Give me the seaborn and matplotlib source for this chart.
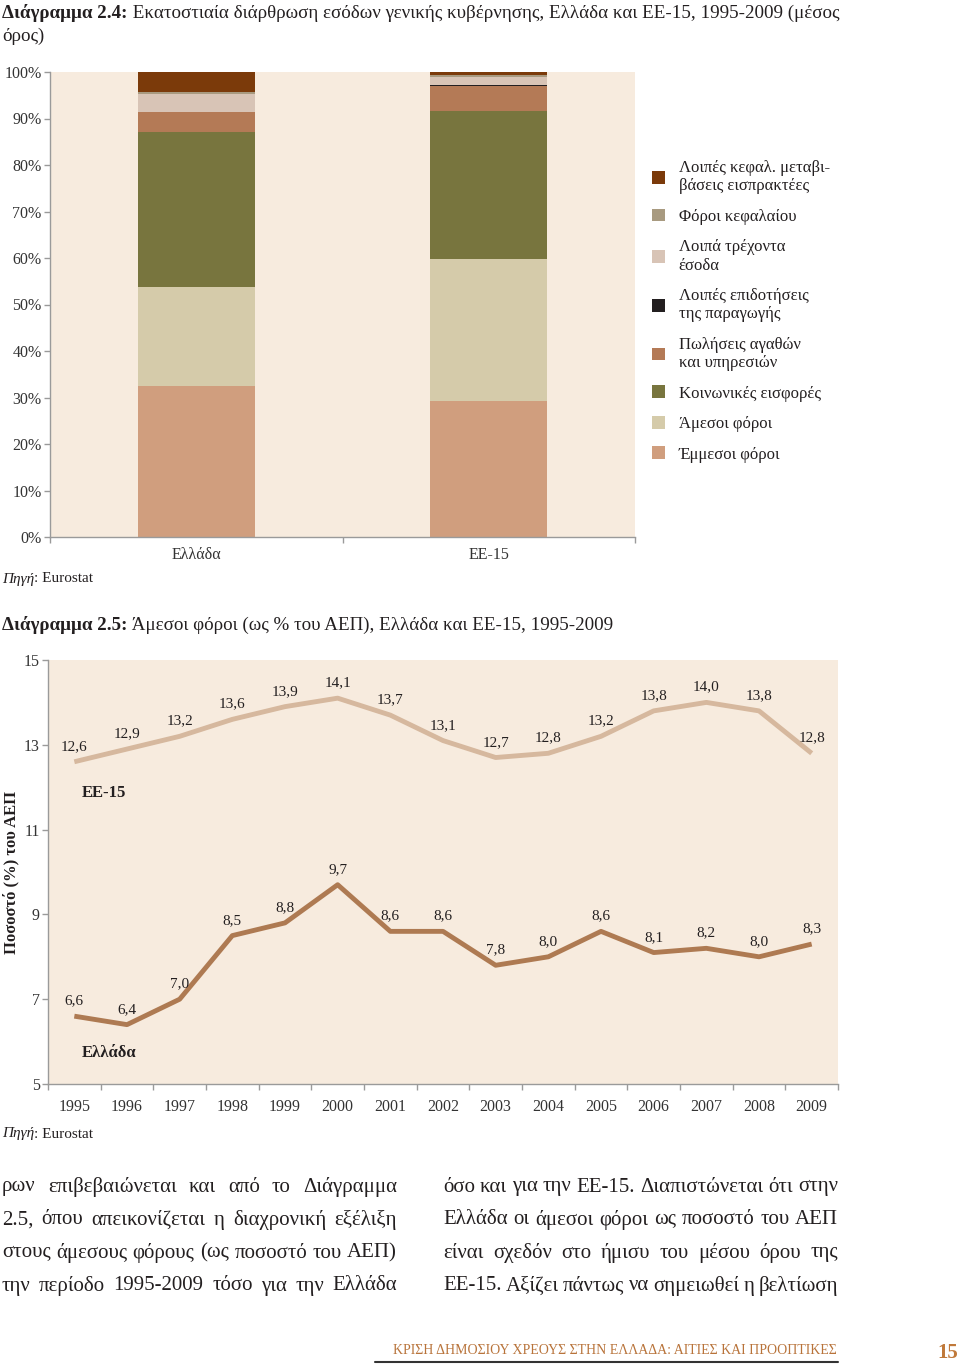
import numpy as np
import pandas as pd
import seaborn as sns
import matplotlib.pyplot as plt
from matplotlib.lines import Line2D
from matplotlib.ticker import FuncFormatter

W, H = 960, 1368

# Diagram 2.4: revenue structure (% of total), stacked bottom -> top
countries = ["Ελλάδα", "ΕΕ-15"]
components = ["Έμμεσοι φόροι", "Άμεσοι φόροι", "Κοινωνικές εισφορές",
              "Πωλήσεις αγαθών\nκαι υπηρεσιών", "Λοιπές επιδοτήσεις\nτης παραγωγής",
              "Λοιπά τρέχοντα\nέσοδα", "Φόροι κεφαλαίου",
              "Λοιπές κεφαλ. μεταβι-\nβάσεις εισπρακτέες"]
greece_shares = [32.5, 21.3, 33.3, 4.3, 0.1, 3.7, 0.6, 4.2]
eu15_shares = [29.2, 30.5, 32.0, 5.2, 0.3, 1.7, 0.5, 0.6]
component_colors = ["#D09E7E", "#D5CBAA", "#78753E", "#B47A56", "#231F20",
                    "#D8C4B6", "#A89A80", "#7B3A0A"]

# Diagram 2.5: direct taxes (% of GDP)
years = list(range(1995, 2010))
eu15_direct = [12.6, 12.9, 13.2, 13.6, 13.9, 14.1, 13.7, 13.1, 12.7, 12.8, 13.2, 13.8, 14.0, 13.8, 12.8]
greece_direct = [6.6, 6.4, 7.0, 8.5, 8.8, 9.7, 8.6, 8.6, 7.8, 8.0, 8.6, 8.1, 8.2, 8.0, 8.3]

left_lines = ["ρων επιβεβαιώνεται και από το Διάγραμμα",
              "2.5, όπου απεικονίζεται η διαχρονική εξέλιξη",
              "στους άμεσους φόρους (ως ποσοστό του ΑΕΠ)",
              "την περίοδο 1995-2009 τόσο για την Ελλάδα"]
right_lines = ["όσο και για την ΕΕ-15. Διαπιστώνεται ότι στην",
               "Ελλάδα οι άμεσοι φόροι ως ποσοστό του ΑΕΠ",
               "είναι σχεδόν στο ήμισυ του μέσου όρου της",
               "ΕΕ-15. Αξίζει πάντως να σημειωθεί η βελτίωση"]

sns.set_style("white")
plt.rcParams["font.family"] = ["Liberation Serif", "DejaVu Serif"]
plt.rcParams["text.color"] = "#231F20"

bg = "#F7EBDE"
spine_c = "#9A9A9A"
tick_c = "#333333"

fig = plt.figure(figsize=(W / 100, H / 100), dpi=100)
renderer = fig.canvas.get_renderer()


def fx(x):
    return x / W


def fy(y):
    return 1 - y / H


def rich_line(parts, x, y, size, fit_right=None, color="#231F20"):
    texts = [fig.text(fx(x), fy(y), s, fontsize=size, fontweight=wt, fontstyle=st,
                      va="center", ha="left", color=color) for s, wt, st in parts]
    widths = [t.get_window_extent(renderer).width for t in texts]
    if fit_right is not None:
        k = (fit_right - x) / sum(widths)
        for t in texts:
            t.set_fontsize(size * k)
        widths = [t.get_window_extent(renderer).width for t in texts]
    cx = x
    for t, w in zip(texts, widths):
        t.set_x(fx(cx))
        cx += w
    return texts


def justify(line, x0, x1, y, size):
    words = line.split()
    texts = [fig.text(0, fy(y), w, fontsize=size, va="center", ha="left") for w in words]
    widths = [t.get_window_extent(renderer).width for t in texts]
    gap = (x1 - x0 - sum(widths)) / (len(words) - 1)
    cx = x0
    for t, w in zip(texts, widths):
        t.set_x(fx(cx))
        cx += w + gap


def style_axes(ax):
    ax.set_facecolor(bg)
    for s in ("top", "right"):
        ax.spines[s].set_visible(False)
    for s in ("left", "bottom"):
        ax.spines[s].set_color(spine_c)
        ax.spines[s].set_linewidth(1)
    ax.tick_params(which="both", bottom=True, left=True, direction="out",
                   color=spine_c, labelcolor=tick_c, labelsize=11.5)
    ax.tick_params(which="major", length=4, width=1, pad=2)
    ax.tick_params(axis="x", which="minor", length=0)
    ax.set_xlabel("")
    ax.set_ylabel("")


# ---------- Diagram 2.4 ----------
ax1 = fig.add_axes([fx(50), fy(537), 585 / W, 465 / H])
bottom = np.zeros(len(countries))
for comp, g, e, c in zip(components, greece_shares, eu15_shares, component_colors):
    vals = np.array([g, e])
    sns.barplot(x=countries, y=vals, color=c, saturation=1, width=0.4, errorbar=None,
                bottom=bottom.copy(), label=comp, linewidth=0, legend=False, ax=ax1)
    bottom += vals
if ax1.get_legend() is not None:
    ax1.get_legend().remove()

style_axes(ax1)
ax1.set_ylim(0, 100)
ax1.set_xlim(-0.5, 1.5)
ax1.set_yticks(range(0, 101, 10))
ax1.yaxis.set_major_formatter(FuncFormatter(lambda v, p: f"{v:.0f}%"))
ax1.set_xticks([-0.5, 0.5, 1.5])
ax1.set_xticklabels([])
ax1.set_xticks([0, 1], minor=True)
ax1.set_xticklabels(countries, minor=True)
ax1.tick_params(axis="x", which="minor", pad=7)

h, l = ax1.get_legend_handles_labels()
fig.legend(h[::-1], l[::-1], loc="upper left", bbox_to_anchor=(fx(652), fy(160)),
           frameon=False, fontsize=12, handlelength=0.8, handleheight=0.8,
           handletextpad=0.8, labelspacing=0.86, borderaxespad=0, borderpad=0)

# ---------- Diagram 2.5 ----------
ax2 = fig.add_axes([fx(48), fy(1084), 790 / W, 424 / H])
sns.lineplot(x=years, y=eu15_direct, color="#D6B89E", linewidth=3.5,
             solid_capstyle="butt", ax=ax2)
sns.lineplot(x=years, y=greece_direct, color="#AE7A52", linewidth=3.5,
             solid_capstyle="butt", ax=ax2)
for series in (eu15_direct, greece_direct):
    for yr, v in zip(years, series):
        ax2.annotate(f"{v:.1f}".replace(".", ","), (yr, v), xytext=(0, 11),
                     textcoords="offset points", ha="center", va="center",
                     fontsize=11, color="#231F20")

style_axes(ax2)
ax2.set_ylim(5, 15)
ax2.set_xlim(1994.5, 2009.5)
ax2.set_yticks([5, 7, 9, 11, 13, 15])
ax2.set_xticks(np.arange(1994.5, 2010, 1))
ax2.set_xticklabels([])
ax2.set_xticks(years, minor=True)
ax2.set_xticklabels([str(y) for y in years], minor=True)
ax2.tick_params(axis="x", which="minor", pad=11)
ax2.text(0.043, 0.686, "ΕΕ-15", transform=ax2.transAxes, fontsize=12,
         fontweight="bold", va="center", ha="left")
ax2.text(0.043, 0.073, "Ελλάδα", transform=ax2.transAxes, fontsize=12,
         fontweight="bold", va="center", ha="left")
fig.text(fx(11), fy(872), "Ποσοστό (%) του ΑΕΠ", rotation=90, fontsize=12,
         fontweight="bold", va="center", ha="center")

# ---------- page text ----------
t24 = rich_line([("Διάγραμμα 2.4:", "bold", "normal"),
                 (" Εκατοστιαία διάρθρωση εσόδων γενικής κυβέρνησης, Ελλάδα και ΕΕ-15, 1995-2009 (μέσος",
                  "normal", "normal")], 2, 13, 13.5, fit_right=838)
title_size = t24[1].get_fontsize()
rich_line([("όρος)", "normal", "normal")], 2, 36, title_size)
rich_line([("Διάγραμμα 2.5:", "bold", "normal"),
           (" Άμεσοι φόροι (ως % του ΑΕΠ), Ελλάδα και ΕΕ-15, 1995-2009", "normal", "normal")],
          2, 625, title_size)
for ys in (579, 1134):
    rich_line([("Πηγή", "normal", "italic"), (": Eurostat", "normal", "normal")], 2, ys, 11)

for i, (a, b) in enumerate(zip(left_lines, right_lines)):
    y = 1187 + 33 * i
    justify(a, 2, 397, y, 15)
    justify(b, 443, 838, y, 15)

rich_line([("ΚΡΙΣΗ ΔΗΜΟΣΙΟΥ ΧΡΕΟΥΣ ΣΤΗΝ ΕΛΛΑΔΑ: ΑΙΤΙΕΣ ΚΑΙ ΠΡΟΟΠΤΙΚΕΣ", "normal", "normal")],
          393, 1350, 11, fit_right=838, color="#B8733A")
fig.add_artist(Line2D([fx(375), fx(838)], [fy(1362), fy(1362)], color="#333333", linewidth=1.5))
fig.text(fx(958), fy(1353), "15", fontsize=15, fontweight="bold", color="#C0793A",
         va="center", ha="right")

fig.savefig("out.png", dpi=100)
